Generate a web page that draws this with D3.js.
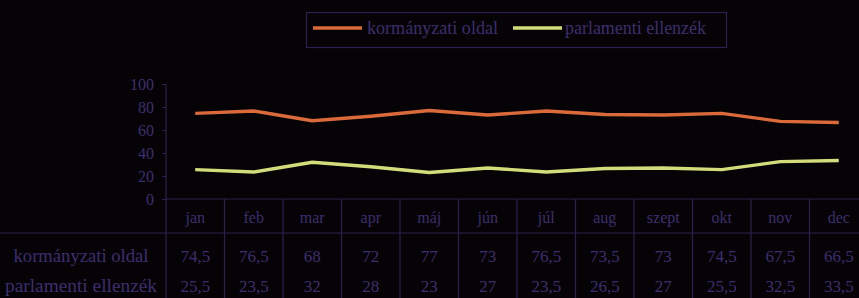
<!DOCTYPE html>
<html>
<head>
<meta charset="utf-8">
<script src="https://cdn.jsdelivr.net/npm/d3@7"></script>
<style>
html,body{margin:0;padding:0;background:#050305;overflow:hidden;}
svg{display:block;}
</style>
</head>
<body>
<svg id="chart" width="859" height="298"></svg>
<script>
const months = ["jan","feb","mar","apr","máj","jún","júl","aug","szept","okt","nov","dec"];
const seriesNames = ["kormányzati oldal","parlamenti ellenzék"];
const kormanyzati = [74.5,76.5,68,72,77,73,76.5,73.5,73,74.5,67.5,66.5];
const ellenzek = [25.5,23.5,32,28,23,27,23.5,26.5,27,25.5,32.5,33.5];
const yTicks = [0,20,40,60,80,100];
const tableLabels = [["74,5","76,5","68","72","77","73","76,5","73,5","73","74,5","67,5","66,5"],
                     ["25,5","23,5","32","28","23","27","23,5","26,5","27","25,5","32,5","33,5"]];

const svg = d3.select("#chart");
const W = 859, H = 298;
const textCol = "#3d2e70";
const gridCol = "#2b2150";
const colors = ["#db6a3a","#d3dc7a"];
const font = "'Liberation Serif','DejaVu Serif',serif";

svg.append("rect").attr("width",W).attr("height",H).attr("fill","#050305");

const x = d3.scaleBand().domain(months).range([166, 166 + 12*58.5]).paddingInner(0).paddingOuter(0);
const y = d3.scaleLinear().domain([0,100]).range([199,84]);

// y axis
const yAxis = d3.axisLeft(y).tickValues(yTicks).tickSize(4).tickFormat(d3.format("d"));
const gy = svg.append("g").attr("transform","translate(166,0)").call(yAxis);
gy.select(".domain").remove();
gy.selectAll(".tick line").attr("stroke",gridCol);
gy.selectAll(".tick text").attr("fill",textCol).attr("font-family",font).attr("font-size",16).attr("x",-12);

// axis lines
svg.append("line").attr("x1",166).attr("x2",166).attr("y1",84).attr("y2",H).attr("stroke",gridCol).attr("stroke-width",1.2);
svg.append("line").attr("x1",166).attr("x2",x.range()[1]).attr("y1",y(0)).attr("y2",y(0)).attr("stroke",gridCol).attr("stroke-width",1.2);
svg.append("line").attr("x1",0).attr("x2",x.range()[1]).attr("y1",233).attr("y2",233).attr("stroke",gridCol).attr("stroke-width",1.2);

// table vertical lines
months.forEach((m,i)=>{
  if(i===0) return;
  svg.append("line").attr("x1",x(m)).attr("x2",x(m)).attr("y1",y(0)).attr("y2",H).attr("stroke",gridCol).attr("stroke-width",1.2);
});

// category labels
svg.append("g").selectAll("text").data(months).join("text")
  .attr("x",d=>x(d)+x.bandwidth()/2).attr("y",223)
  .attr("text-anchor","middle").attr("fill",textCol)
  .attr("font-family",font).attr("font-size",16).text(d=>d);

// row labels and values
const rowY = [262, 292];
const rowLabelW = [135, 152];
seriesNames.forEach((name,r)=>{
  svg.append("text").attr("x",81).attr("y",rowY[r]).attr("fill",textCol)
    .attr("text-anchor","middle")
    .attr("font-family",font).attr("font-size",18)
    .attr("textLength",rowLabelW[r]).attr("lengthAdjust","spacingAndGlyphs").text(name);
  svg.append("g").selectAll("text").data(tableLabels[r]).join("text")
    .attr("x",(d,i)=>x(months[i])+x.bandwidth()/2).attr("y",rowY[r])
    .attr("text-anchor","middle").attr("fill",textCol)
    .attr("font-family",font).attr("font-size",17).text(d=>d);
});

// lines
const line = d3.line().x((d,i)=>x(months[i])+x.bandwidth()/2).y(d=>y(d));
[kormanyzati, ellenzek].forEach((s,k)=>{
  svg.append("path").datum(s).attr("d",line).attr("fill","none")
    .attr("stroke",colors[k]).attr("stroke-width",3.4).attr("stroke-linejoin","round");
});

// legend
const lg = svg.append("g");
lg.append("rect").attr("x",306.5).attr("y",12.5).attr("width",420).attr("height",35)
  .attr("fill","none").attr("stroke",gridCol).attr("stroke-width",1.2);
const legendItems = [{x:313, tx:367, w:131},{x:513, tx:565, w:141}];
seriesNames.forEach((name,k)=>{
  lg.append("line").attr("x1",legendItems[k].x).attr("x2",legendItems[k].x+49).attr("y1",28).attr("y2",28)
    .attr("stroke",colors[k]).attr("stroke-width",3.5);
  lg.append("text").attr("x",legendItems[k].tx).attr("y",34).attr("fill",textCol)
    .attr("font-family",font).attr("font-size",18)
    .attr("textLength",legendItems[k].w).attr("lengthAdjust","spacingAndGlyphs").text(name);
});
</script>
</body>
</html>
